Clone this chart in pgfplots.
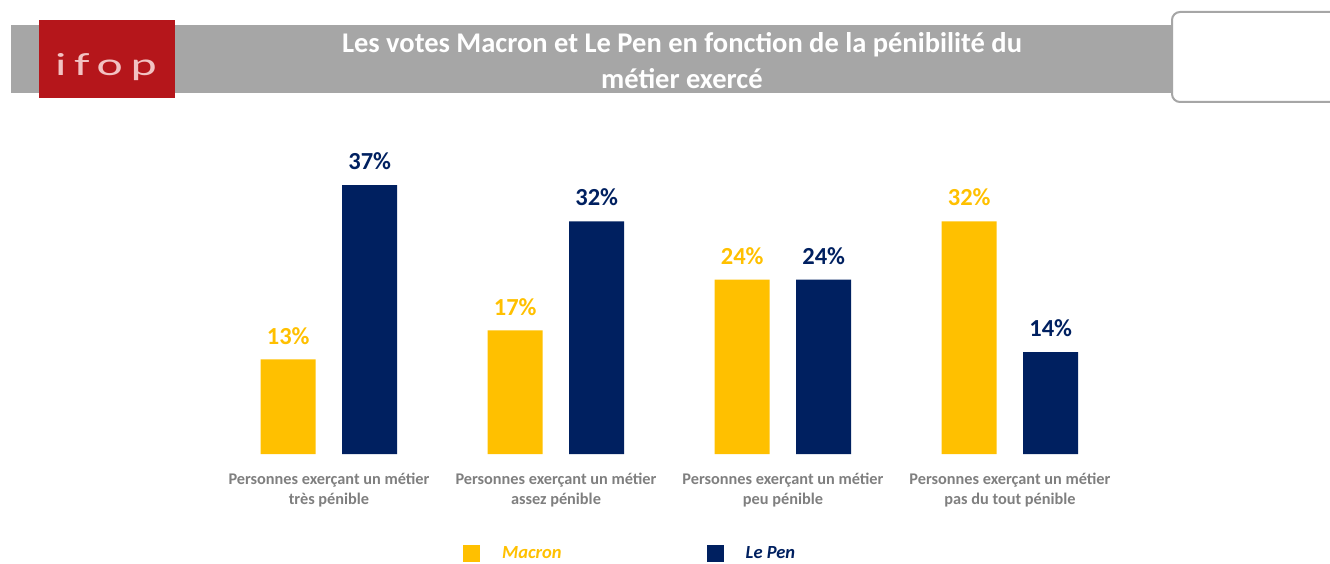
\documentclass[border=0pt]{standalone}
\usepackage{pgfplots}
\pgfplotsset{compat=1.18}
\usepackage{fontspec}
\setmainfont{Carlito}
\newfontfamily\logofont[LetterSpace=16]{Carlito}
\definecolor{macron}{HTML}{FFC000}
\definecolor{lepen}{HTML}{002060}
\definecolor{lbl}{HTML}{7F7F7F}
\definecolor{band}{HTML}{A6A6A6}
\definecolor{logored}{HTML}{B5161B}
\definecolor{logotext}{HTML}{F2C2C2}
\begin{document}
\begin{tikzpicture}[x=1pt,y=1pt]
\useasboundingbox (0,0) rectangle (1330,563);
% header band
\fill[band] (11,538) rectangle (1172,470);
\fill[logored] (39,543) rectangle (175,465);
\node[text=logotext, anchor=base, inner sep=0pt, font=\logofont\fontsize{32}{32}\selectfont] at (106,487) {\scalebox{1.55}[1]{ifop}};
\draw[band, line width=2pt, fill=white, rounded corners=8pt] (1172,551) rectangle (1345,461);
\node[text=white, align=center, font=\bfseries\fontsize{28.5}{36}\selectfont] at (682,502) {Les votes Macron et Le Pen en fonction de la pénibilité du\\métier exercé};
\begin{axis}[
  at={(102pt,109pt)}, anchor=south west,
  scale only axis, width=1135pt, height=290.8pt,
  xmin=-1, xmax=4, ymin=0, ymax=40,
  ybar, bar width=55pt, clip=false,
  axis line style={draw=none}, major tick style={draw=none},
  ytick=\empty, xtick={0,1,2,3},
  xticklabels={{Personnes exerçant un métier\\très pénible},{Personnes exerçant un métier\\assez pénible},{Personnes exerçant un métier\\peu pénible},{Personnes exerçant un métier\\pas du tout pénible}},
  xticklabel style={font=\bfseries\fontsize{16.3}{20}\selectfont, text=lbl, align=center, yshift=-11pt},
  /pgf/number format/assume math mode=true,
  nodes near coords={\pgfmathprintnumber{\pgfplotspointmeta}\%},
  nodes near coords style={font=\bfseries\fontsize{24.5}{24}\selectfont, inner sep=0pt, yshift=15pt, anchor=south},
  legend style={at={(0.318,-0.343)}, anchor=west, draw=none, fill=none, inner sep=0pt, legend columns=2,
    nodes={inner sep=0pt}, font=\bfseries\itshape\fontsize{18.5}{20}\selectfont,
    /tikz/every odd column/.append style={column sep=22pt},
    /tikz/every even column/.append style={column sep=145pt}},
  legend image code/.code={\fill[#1] (0pt,-8.5pt) rectangle (17pt,8.5pt);},
]
\addplot[fill=macron, draw=none, bar shift=-40.75pt, every node near coord/.append style={text=macron}] coordinates {(0,13) (1,17) (2,24) (3,32)};
\addlegendentry{\textcolor{macron}{Macron}}
\addplot[fill=lepen, draw=none, bar shift=40.75pt, every node near coord/.append style={text=lepen}] coordinates {(0,37) (1,32) (2,24) (3,14)};
\addlegendentry{\textcolor{lepen}{Le Pen}}
\end{axis}
\end{tikzpicture}
\end{document}
